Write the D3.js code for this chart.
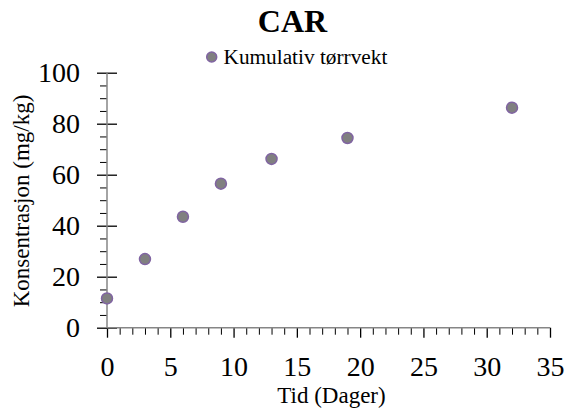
<!DOCTYPE html>
<html>
<head>
<meta charset="utf-8">
<script src="https://cdn.jsdelivr.net/npm/d3@7/dist/d3.min.js"></script>
<style>
  html, body { margin: 0; padding: 0; background: #fff; }
  svg text { font-family: "Liberation Serif", "Times New Roman", serif !important; }
</style>
</head>
<body>
<svg id="chart" width="568" height="412"></svg>
<script>
const title = "CAR";
const seriesName = "Kumulativ tørrvekt";
const xLabel = "Tid (Dager)";
const yLabel = "Konsentrasjon (mg/kg)";
const days = [0, 3, 6, 9, 13, 19, 32];
const values = [11.5, 26.9, 43.5, 56.5, 66.2, 74.4, 86.3];
const xTicks = [0, 5, 10, 15, 20, 25, 30, 35];
const yTicks = [0, 20, 40, 60, 80, 100];

const svg = d3.select("#chart");
const x = d3.scaleLinear().domain([0, 35]).range([107, 550]);
const y = d3.scaleLinear().domain([0, 100]).range([327.7, 72.7]);

// Title
svg.append("text").attr("x", 292.5).attr("y", 31.5).attr("text-anchor", "middle")
  .style("font-size", "32px").attr("font-weight", "bold").attr("fill", "#000").text(title);

// Legend
svg.append("circle").attr("cx", 211.7).attr("cy", 57).attr("r", 5)
  .attr("fill", "#808080").attr("stroke", "#8064A2").attr("stroke-width", 1.5);
svg.append("text").attr("x", 223.5).attr("y", 63.7).style("font-size", "21.3px")
  .attr("fill", "#000").text(seriesName);

// Y minor ticks
const yMinor = d3.range(0, 101, 5).filter(v => v % 20 !== 0);
svg.append("g").attr("transform", `translate(${x(0)},0)`)
  .call(d3.axisLeft(y).tickValues(yMinor).tickSize(7).tickFormat(""))
  .call(g => g.select(".domain").remove())
  .call(g => g.selectAll("line").attr("stroke", "#000").attr("stroke-width", 1));

// X minor ticks
const xMinor = d3.range(0, 36, 1).filter(v => v % 5 !== 0);
svg.append("g").attr("transform", `translate(0,${y(0)})`)
  .call(d3.axisBottom(x).tickValues(xMinor).tickSize(7).tickFormat(""))
  .call(g => g.select(".domain").remove())
  .call(g => g.selectAll("line").attr("stroke", "#000").attr("stroke-width", 1));

// Y major axis
const yAxis = svg.append("g").attr("transform", `translate(${x(0)},0)`)
  .call(d3.axisLeft(y).tickValues(yTicks).tickSizeInner(10).tickSizeOuter(0).tickPadding(17).tickFormat(d3.format("d")));
yAxis.select(".domain").remove();
yAxis.selectAll(".tick line").attr("x2", -10).attr("x1", 10).attr("stroke", "#000").attr("stroke-width", 1.3);
yAxis.selectAll(".tick text").style("font-size", "28px").attr("fill", "#000").attr("dy", "0.33em");

// X major axis
const xAxis = svg.append("g").attr("transform", `translate(0,${y(0)})`)
  .call(d3.axisBottom(x).tickValues(xTicks).tickSizeInner(10).tickSizeOuter(0).tickPadding(18).tickFormat(d3.format("d")));
xAxis.select(".domain").remove();
xAxis.selectAll(".tick line").attr("stroke", "#000").attr("stroke-width", 1.3);
xAxis.selectAll(".tick text").style("font-size", "28px").attr("fill", "#000").attr("dy", "0.71em");

// Axis lines
svg.append("line").attr("x1", x(0)).attr("x2", x(0)).attr("y1", y(100)).attr("y2", y(0))
  .attr("stroke", "#868686").attr("stroke-width", 1.5);
svg.append("line").attr("x1", x(0)).attr("x2", x(35)).attr("y1", y(0)).attr("y2", y(0))
  .attr("stroke", "#868686").attr("stroke-width", 1.5);

// Axis titles
svg.append("text").attr("x", 331.5).attr("y", 403).attr("text-anchor", "middle")
  .style("font-size", "23px").attr("fill", "#000").text(xLabel);
svg.append("text").attr("transform", "translate(28.5,201) rotate(-90)")
  .attr("text-anchor", "middle").style("font-size", "23px").attr("fill", "#000").text(yLabel);

// Points
svg.append("g").selectAll("circle").data(days.map((d, i) => [d, values[i]])).join("circle")
  .attr("cx", d => x(d[0])).attr("cy", d => y(d[1])).attr("r", 5.5)
  .attr("fill", "#808080").attr("stroke", "#8064A2").attr("stroke-width", 1.5);
</script>
</body>
</html>
